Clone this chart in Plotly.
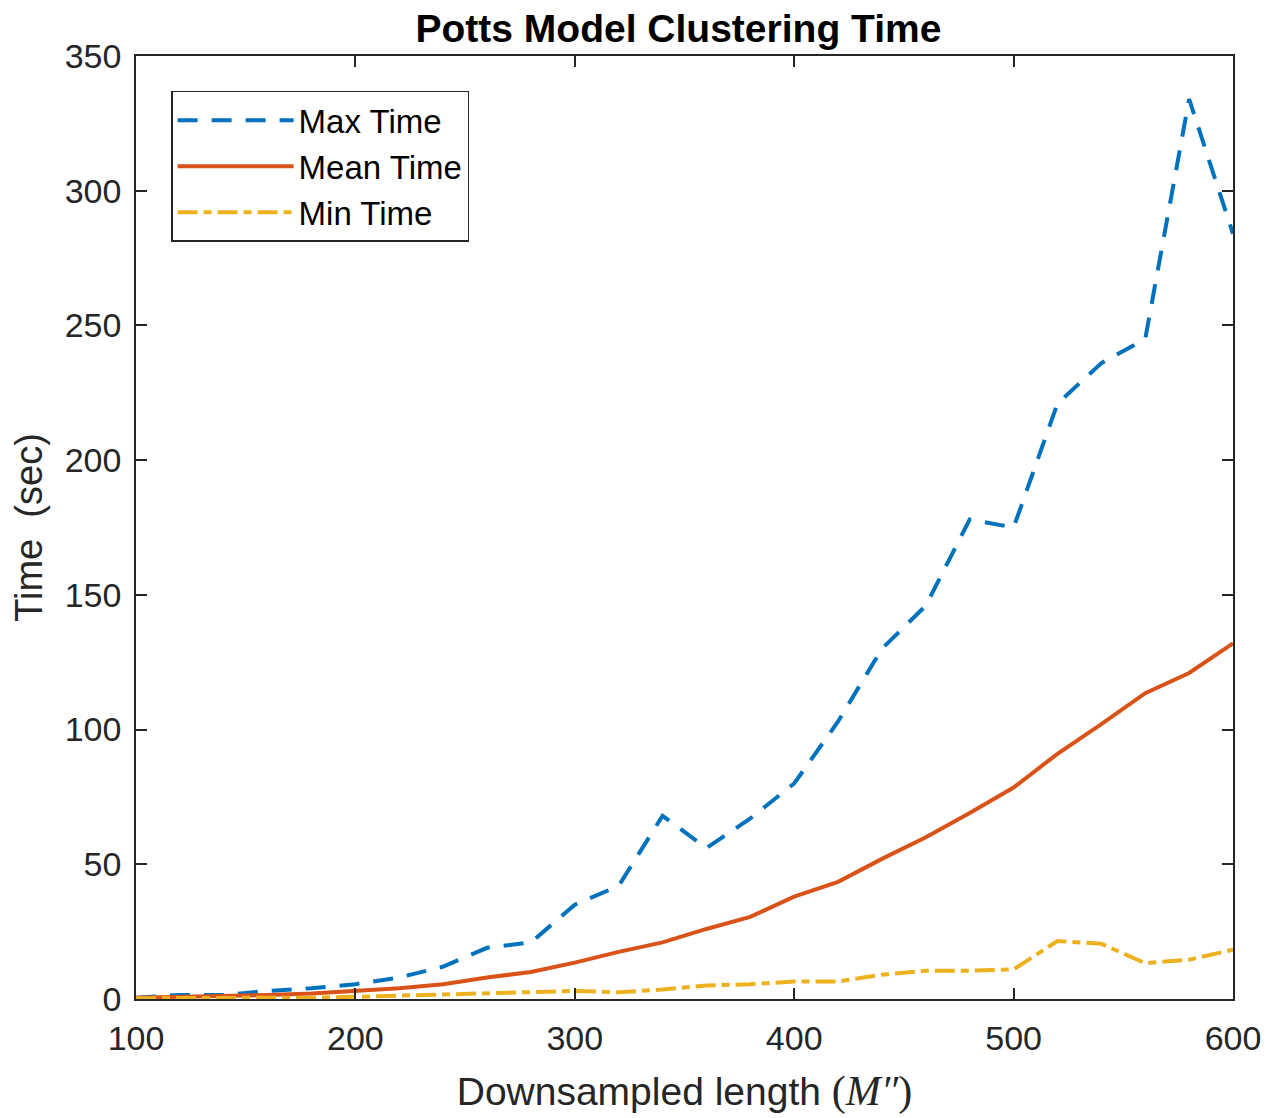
import plotly.graph_objects as go

x_vals = list(range(100, 601, 20))
max_time = [0.5, 1.5, 1.5, 3, 4, 5.5, 8, 12, 19, 21, 35, 42, 68, 56, 67, 80,
            103, 130, 146, 178, 175, 221, 236, 245, 334, 284]
mean_time = [0.5, 0.8, 1, 1.5, 2, 3, 4, 5.5, 8, 10, 13.5, 17.5, 21, 26, 30.5, 38,
             43.5, 52, 60, 69, 78.5, 91, 102, 113.5, 121, 132]
min_time = [0.3, 0.3, 0.3, 0.4, 0.5, 0.8, 1.2, 1.5, 2, 2.5, 3, 2.5, 3.5, 5, 5.5, 6.5,
            6.5, 9, 10.5, 10.5, 11, 21.5, 20.5, 13.3, 14.6, 18.3]

x_ticks = [100, 200, 300, 400, 500, 600]
y_ticks = [0, 50, 100, 150, 200, 250, 300, 350]

FONT = "Liberation Sans, Arial"

fig = go.Figure()
fig.add_trace(go.Scatter(x=x_vals, y=max_time, mode="lines", name="Max Time",
                         line=dict(color="#0072BD", width=4, dash="20px,14px")))
fig.add_trace(go.Scatter(x=x_vals, y=mean_time, mode="lines", name="Mean Time",
                         line=dict(color="#D95319", width=4)))
fig.add_trace(go.Scatter(x=x_vals, y=min_time, mode="lines", name="Min Time",
                         line=dict(color="#EDB120", width=4, dash="20px,6px,8px,6px")))

axis_common = dict(showgrid=False, zeroline=False, showline=True, linecolor="#262626",
                   linewidth=1.5, mirror="allticks", ticks="inside", ticklen=11,
                   tickwidth=1.5, tickcolor="#262626",
                   tickfont=dict(family=FONT, size=34, color="#262626"))

fig.update_layout(
    width=1267, height=1110,
    margin=dict(l=128, r=42, t=48, b=117),
    plot_bgcolor="white", paper_bgcolor="white",
    title=dict(text="<b>Potts Model Clustering Time</b>", x=0.4945, xanchor="center",
               xref="paper", y=0.982, yanchor="middle", yref="container",
               font=dict(family=FONT, size=39, color="black")),
    xaxis=dict(range=[100, 600], tickvals=x_ticks, ticklabelstandoff=8, **axis_common,
               title=dict(text="Downsampled length <span style='font-family:Liberation Serif;font-size:42px'>(<i>M\u2033</i>)</span>",
                          font=dict(family=FONT, size=39, color="#262626"),
                          standoff=22)),
    yaxis=dict(range=[0, 350], tickvals=y_ticks, ticklabelstandoff=6, **axis_common,
               title=dict(text="Time  (sec)",
                          font=dict(family=FONT, size=38, color="#262626"),
                          standoff=18)),
    legend=dict(x=0.032, y=0.963, xanchor="left", yanchor="top",
                bgcolor="white", bordercolor="#262626", borderwidth=1.5,
                font=dict(family=FONT, size=33, color="black"),
                itemwidth=116, tracegroupgap=0),
    showlegend=True,
)

fig.write_html("out.html")
